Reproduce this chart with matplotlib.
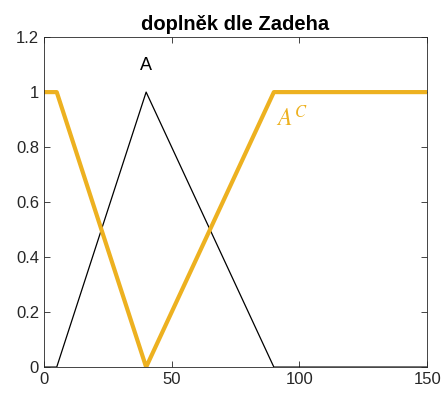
import matplotlib
matplotlib.use('Agg')
from matplotlib import pyplot as plt

plt.rcParams['font.family'] = ['Liberation Sans', 'DejaVu Sans']
plt.rcParams['mathtext.fontset'] = 'stix'

x_a = [0, 5, 40, 90, 150]
mu_a = [0, 0, 1, 0, 0]
mu_ac = [1 - v for v in mu_a]

fig = plt.figure(figsize=(4.44, 3.99), dpi=100)
ax = fig.add_axes([0.099, 0.080, 0.863, 0.827])

ax.plot(x_a, mu_a, color='black', linewidth=0.9)
ax.plot(x_a, mu_ac, color='#EDB120', linewidth=3)

ax.text(40, 1.095, 'A', fontsize=13, ha='center', va='center', color='black')
ax.text(91, 0.905, '$A^C$', fontsize=17, ha='left', va='center', color='#EDB120')

ax.set_xlim(0, 150)
ax.set_ylim(0, 1.2)
ax.set_xticks([0, 50, 100, 150])
ax.set_yticks([0, 0.2, 0.4, 0.6, 0.8, 1, 1.2])
ax.set_yticklabels(['0', '0.2', '0.4', '0.6', '0.8', '1', '1.2'])
ax.tick_params(direction='in', top=True, right=True, labelsize=12, length=4, width=0.6, colors='#262626')
for s in ax.spines.values():
    s.set_color('#262626')
    s.set_linewidth(0.6)
ax.set_title('doplněk dle Zadeha', fontsize=14.5, fontweight='bold', pad=5)

fig.savefig('out.png')
